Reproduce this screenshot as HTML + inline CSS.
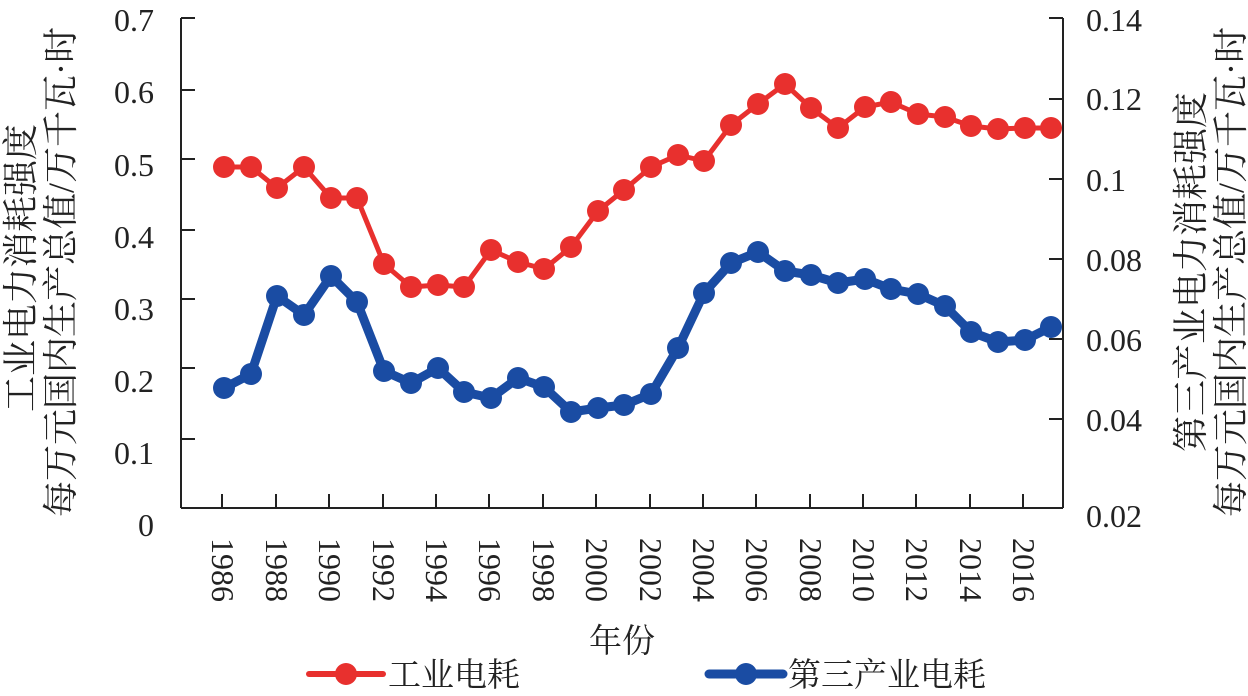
<!DOCTYPE html>
<html><head><meta charset="utf-8"><style>
html,body{margin:0;padding:0;background:#fff;}
svg{display:block;}
.t{font-family:"Liberation Serif",serif;font-size:32px;fill:#222;}
.c{font-family:"Liberation Serif","Noto Serif CJK SC","Noto Sans CJK SC",serif;font-size:33px;fill:#222;}
.a{font-family:"Liberation Serif","Noto Serif CJK SC","Noto Sans CJK SC",serif;font-size:36px;fill:#222;}
</style></head><body>
<svg width="1248" height="696" viewBox="0 0 1248 696" xmlns="http://www.w3.org/2000/svg">
<g stroke="#222" stroke-width="2" fill="none">
<line x1="181" y1="18" x2="181" y2="508"/>
<line x1="1063" y1="18" x2="1063" y2="508"/>
<line x1="181" y1="508" x2="1063" y2="508"/>
<path d="M181 18h14M181 90h14M181 159h14M181 230h14M181 299h14M181 368h14M181 439h14"/>
<path d="M1063 18h-14M1063 99h-14M1063 179h-14M1063 259h-14M1063 339h-14M1063 419h-14"/>
<path d="M222 508v-14M276 508v-14M329 508v-14M383 508v-14M436 508v-14M489 508v-14M543 508v-14M596 508v-14M650 508v-14M703 508v-14M756 508v-14M810 508v-14M863 508v-14M916 508v-14M970 508v-14M1023 508v-14"/>
</g>
<g class="t" text-anchor="end">
<text x="154" y="31">0.7</text><text x="154" y="103">0.6</text><text x="154" y="176">0.5</text><text x="154" y="248">0.4</text><text x="154" y="320">0.3</text><text x="154" y="392">0.2</text><text x="154" y="464">0.1</text><text x="154" y="536">0</text>
</g>
<g class="t" text-anchor="start">
<text x="1086" y="31">0.14</text><text x="1086" y="110">0.12</text><text x="1086" y="191">0.1</text><text x="1086" y="271">0.08</text><text x="1086" y="351">0.06</text><text x="1086" y="431">0.04</text><text x="1086" y="527">0.02</text>
</g>
<g class="t">
<text transform="translate(212,538) rotate(90)">1986</text>
<text transform="translate(266,538) rotate(90)">1988</text>
<text transform="translate(319,538) rotate(90)">1990</text>
<text transform="translate(373,538) rotate(90)">1992</text>
<text transform="translate(426,538) rotate(90)">1994</text>
<text transform="translate(479,538) rotate(90)">1996</text>
<text transform="translate(533,538) rotate(90)">1998</text>
<text transform="translate(586,538) rotate(90)">2000</text>
<text transform="translate(640,538) rotate(90)">2002</text>
<text transform="translate(693,538) rotate(90)">2004</text>
<text transform="translate(746,538) rotate(90)">2006</text>
<text transform="translate(800,538) rotate(90)">2008</text>
<text transform="translate(853,538) rotate(90)">2010</text>
<text transform="translate(906,538) rotate(90)">2012</text>
<text transform="translate(960,538) rotate(90)">2014</text>
<text transform="translate(1013,538) rotate(90)">2016</text>
</g>
<g class="a" text-anchor="middle">
<text transform="translate(33,268) rotate(-90)">工业电力消耗强度</text>
<text transform="translate(73,272) rotate(-90)">每万元国内生产总值/万千瓦·时</text>
<text transform="translate(1203,272) rotate(-90)">第三产业电力消耗强度</text>
<text transform="translate(1243,272) rotate(-90)">每万元国内生产总值/万千瓦·时</text>
</g>
<text class="c" x="622" y="652" text-anchor="middle">年份</text>
<polyline fill="none" stroke="#e8302e" stroke-width="5" stroke-linejoin="round" points="224,167 251,167 277,188 304,167 331,198 357,198 384,264 411,287 438,285 464,287 491,250 518,262 544,269 571,247 598,211 624,190 651,167 678,155 704,161 731,125 758,104 785,84 811,108 838,128 865,107 891,102 918,114 945,117 971,126 998,129 1025,128 1051,128"/>
<g fill="#e8302e">
<circle cx="224" cy="167" r="11"/><circle cx="251" cy="167" r="11"/><circle cx="277" cy="188" r="11"/><circle cx="304" cy="167" r="11"/><circle cx="331" cy="198" r="11"/><circle cx="357" cy="198" r="11"/><circle cx="384" cy="264" r="11"/><circle cx="411" cy="287" r="11"/><circle cx="438" cy="285" r="11"/><circle cx="464" cy="287" r="11"/><circle cx="491" cy="250" r="11"/><circle cx="518" cy="262" r="11"/><circle cx="544" cy="269" r="11"/><circle cx="571" cy="247" r="11"/><circle cx="598" cy="211" r="11"/><circle cx="624" cy="190" r="11"/><circle cx="651" cy="167" r="11"/><circle cx="678" cy="155" r="11"/><circle cx="704" cy="161" r="11"/><circle cx="731" cy="125" r="11"/><circle cx="758" cy="104" r="11"/><circle cx="785" cy="84" r="11"/><circle cx="811" cy="108" r="11"/><circle cx="838" cy="128" r="11"/><circle cx="865" cy="107" r="11"/><circle cx="891" cy="102" r="11"/><circle cx="918" cy="114" r="11"/><circle cx="945" cy="117" r="11"/><circle cx="971" cy="126" r="11"/><circle cx="998" cy="129" r="11"/><circle cx="1025" cy="128" r="11"/><circle cx="1051" cy="128" r="11"/>
</g>
<polyline fill="none" stroke="#1a4ca3" stroke-width="9" stroke-linejoin="round" points="224,388 251,374 277,296 304,315 331,276 357,302 384,371 411,383 438,368 464,392 491,398 518,378 544,387 571,412 598,408 624,405 651,394 678,348 704,293 731,263 758,252 785,271 811,275 838,283 865,279 891,289 918,294 945,306 971,332 998,342 1025,340 1051,327"/>
<g fill="#1a4ca3">
<circle cx="224" cy="388" r="11"/><circle cx="251" cy="374" r="11"/><circle cx="277" cy="296" r="11"/><circle cx="304" cy="315" r="11"/><circle cx="331" cy="276" r="11"/><circle cx="357" cy="302" r="11"/><circle cx="384" cy="371" r="11"/><circle cx="411" cy="383" r="11"/><circle cx="438" cy="368" r="11"/><circle cx="464" cy="392" r="11"/><circle cx="491" cy="398" r="11"/><circle cx="518" cy="378" r="11"/><circle cx="544" cy="387" r="11"/><circle cx="571" cy="412" r="11"/><circle cx="598" cy="408" r="11"/><circle cx="624" cy="405" r="11"/><circle cx="651" cy="394" r="11"/><circle cx="678" cy="348" r="11"/><circle cx="704" cy="293" r="11"/><circle cx="731" cy="263" r="11"/><circle cx="758" cy="252" r="11"/><circle cx="785" cy="271" r="11"/><circle cx="811" cy="275" r="11"/><circle cx="838" cy="283" r="11"/><circle cx="865" cy="279" r="11"/><circle cx="891" cy="289" r="11"/><circle cx="918" cy="294" r="11"/><circle cx="945" cy="306" r="11"/><circle cx="971" cy="332" r="11"/><circle cx="998" cy="342" r="11"/><circle cx="1025" cy="340" r="11"/><circle cx="1051" cy="327" r="11"/>
</g>
<line x1="309" y1="674" x2="383" y2="674" stroke="#e8302e" stroke-width="6" stroke-linecap="round"/>
<circle cx="346" cy="674" r="11" fill="#e8302e"/>
<text class="c" x="388" y="686">工业电耗</text>
<line x1="709" y1="674" x2="783" y2="674" stroke="#1a4ca3" stroke-width="9" stroke-linecap="round"/>
<circle cx="746" cy="674" r="11" fill="#1a4ca3"/>
<text class="c" x="788" y="686">第三产业电耗</text>
</svg>
</body></html>
